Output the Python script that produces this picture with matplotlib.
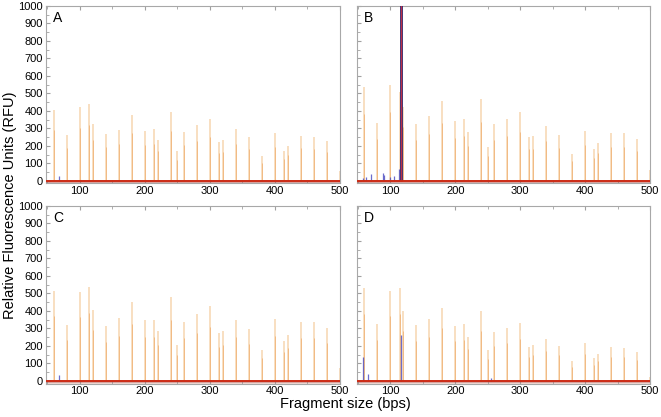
import numpy as np
from matplotlib import pyplot as plt
from matplotlib.ticker import MultipleLocator

plt.rcParams['font.family'] = ['Liberation Sans', 'DejaVu Sans']

# size standard peaks (bps)
sizes = [60, 80, 100, 114, 120, 140, 160, 180, 200, 214, 220, 240, 250, 260,
         280, 300, 314, 320, 340, 360, 380, 400, 414, 420, 440, 460, 480, 500]

# peak heights (RFU) per panel
hA = [406, 263, 421, 440, 326, 267, 291, 377, 288, 295, 234, 396, 168, 282,
      320, 352, 221, 232, 295, 251, 145, 272, 173, 202, 259, 253, 230, 55]
hB = [535, 333, 550, 510, 425, 326, 371, 459, 343, 356, 278, 469, 196, 326,
      354, 392, 253, 257, 314, 263, 154, 288, 183, 219, 272, 272, 240, 63]
hC = [513, 321, 510, 537, 404, 312, 360, 452, 346, 350, 288, 481, 206, 337,
      381, 429, 273, 285, 350, 294, 179, 356, 227, 265, 337, 337, 302, 73]
hD = [529, 323, 513, 529, 398, 317, 352, 417, 313, 323, 250, 398, 177, 279,
      304, 331, 192, 208, 240, 202, 112, 215, 129, 156, 192, 188, 167, 20]

# sample (blue) peaks
blueA_x = [68]
blueA_h = [28]
blueB_x = [57, 63, 70, 88, 90, 100, 106, 113, 117]
blueB_h = [15, 25, 38, 45, 35, 25, 28, 67, 3000]
blueC_x = [68]
blueC_h = [35]
blueD_x = [58, 65, 117, 255]
blueD_h = [135, 42, 265, 19]

# off-scale red peak in B
redB_x = [117]
redB_h = [3000]

panels = [('A', hA, blueA_x, blueA_h, [], []),
          ('B', hB, blueB_x, blueB_h, redB_x, redB_h),
          ('C', hC, blueC_x, blueC_h, [], []),
          ('D', hD, blueD_x, blueD_h, [], [])]

fig = plt.figure(figsize=(6.61, 4.17), dpi=100)
W, H = 661, 417
boxes = [(45.7, 6, 339.5, 183.5), (356.7, 6, 650, 183.5),
         (45.7, 206, 339.5, 383.5), (356.7, 206, 650, 383.5)]

for i, (lab, h, bx, bh, rx, rh) in enumerate(panels):
    l, t, r, b = boxes[i]
    ax = fig.add_axes([l / W, 1 - b / H, (r - l) / W, (b - t) / H])
    ax.set_xlim(48, 500)
    ax.set_ylim(-15, 1000)
    ax.axhspan(-15, 0, color='#eed8d2', lw=0, zorder=1)
    # size standard peaks: pale halo with a darker core
    ax.vlines(sizes, 0, h, color='#f8dcbc', lw=1.3, zorder=2)
    ax.vlines(sizes, 0, np.array(h) * 0.72, color='#f0b47a', lw=0.6, zorder=3)
    ax.vlines(bx, 0, bh, color='#4848c0', lw=0.9, alpha=0.8, zorder=4)
    if rx:
        ax.vlines(rx, 0, rh, color='#3a2466', lw=2.0, zorder=4)
        ax.vlines(rx, 0, rh, color='#c03048', lw=0.7, zorder=5)
    ax.axhline(0, color='#cc2a14', lw=1.4, zorder=6)
    ax.axhline(-5, color='#b04040', lw=0.5, alpha=0.5, zorder=6)

    ax.xaxis.set_major_locator(MultipleLocator(100))
    ax.xaxis.set_minor_locator(MultipleLocator(50))
    ax.yaxis.set_major_locator(MultipleLocator(100))
    ax.yaxis.set_minor_locator(MultipleLocator(50))
    ax.tick_params(which='both', direction='in', top=True, right=False,
                   color='#a0a0a0', labelsize=8, pad=2)
    ax.tick_params(which='major', length=3)
    ax.tick_params(which='minor', length=2)
    if i % 2 == 1:
        ax.tick_params(labelleft=False)
    for s in ax.spines.values():
        s.set_color('#a8a8a8')
        s.set_linewidth(0.8)
    ax.text(0.025, 0.97, lab, transform=ax.transAxes, fontsize=10,
            va='top', ha='left')

fig.text(345 / W, 1 - 404 / H, 'Fragment size (bps)', ha='center',
         va='center', fontsize=10.5)
fig.text(10 / W, 1 - 205 / H, 'Relative Fluorescence Units (RFU)', ha='center',
         va='center', rotation=90, fontsize=10.5)

fig.savefig('out.png', dpi=100)
